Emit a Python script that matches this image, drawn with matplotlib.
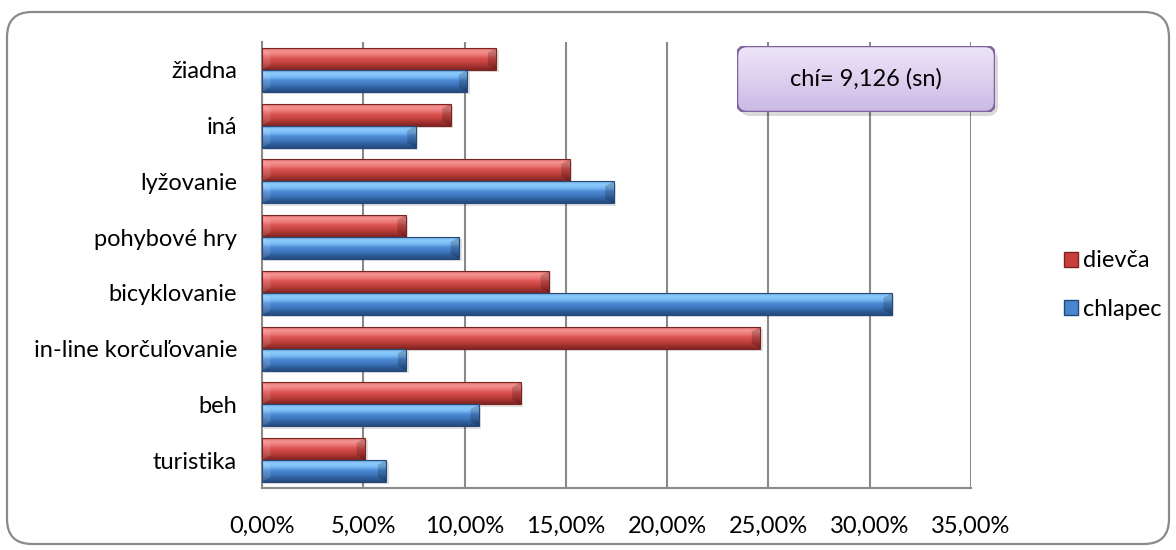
#!/usr/bin/python3
# -*- coding: utf-8 -*-

import numpy as np
import matplotlib
matplotlib.use('Agg')
import matplotlib.pyplot as plt
from matplotlib.patches import FancyBboxPatch, Polygon, Patch
from matplotlib.colors import LinearSegmentedColormap
from matplotlib.ticker import FuncFormatter


categories = ['turistika', 'beh', 'in-line korčuľovanie', 'bicyklovanie',
              'pohybové hry', 'lyžovanie', 'iná', 'žiadna']
dievca = [5.09, 12.77, 24.6, 14.17, 7.10, 15.19, 9.32, 11.57]
chlapec = [6.14, 10.71, 7.13, 31.10, 9.73, 17.36, 7.59, 10.14]
xticks = [0, 5, 10, 15, 20, 25, 30, 35]
note = 'chí= 9,126 (sn)'

FONT = ['Lato', 'DejaVu Sans']
FS = 17

# gradient stops, bottom -> top
RED = ['#7f2321', '#a5332f', '#c44340', '#d9504d', '#ee7a78', '#f49694', '#d85350']
BLUE = ['#244c80', '#2f5f9c', '#3f78bf', '#4c88d2', '#78bcf6', '#8fcbfa', '#5a98dc']


def bevel_bar(ax, rect, stops, edge):
    x0, y0 = rect.get_x(), rect.get_y()
    w, h = rect.get_width(), rect.get_height()
    cmap = LinearSegmentedColormap.from_list('g', stops)
    grad = np.linspace(0, 1, 64).reshape(-1, 1)
    im = ax.imshow(grad, cmap=cmap, extent=[x0, x0 + w, y0, y0 + h],
                   origin='lower', aspect='auto', interpolation='bicubic', zorder=3)
    im.set_clip_path(rect)
    b = 0.42
    bh = h * 0.22
    # left end is lit, right end in shade
    ax.add_patch(Polygon([(x0, y0), (x0 + b, y0 + bh), (x0 + b, y0 + h - bh), (x0, y0 + h)],
                         closed=True, facecolor='white', alpha=0.12, lw=0, zorder=4))
    ax.add_patch(Polygon([(x0 + w, y0), (x0 + w - b, y0 + bh), (x0 + w - b, y0 + h - bh),
                          (x0 + w, y0 + h)],
                         closed=True, facecolor='black', alpha=0.18, lw=0, zorder=4))
    # soft drop shadow
    ax.add_patch(plt.Rectangle((x0 + 0.12, y0 - 0.04), w, h, facecolor='black',
                               alpha=0.12, lw=0, zorder=2))
    ax.add_patch(plt.Rectangle((x0, y0), w, h, facecolor='none', edgecolor=edge,
                               lw=0.8, zorder=5))


def main():
    plt.rcParams['font.family'] = FONT

    fig = plt.figure(figsize=(11.76, 5.5), dpi=100)
    fig.patch.set_facecolor('white')

    # rounded outer frame
    fig.patches.append(FancyBboxPatch((0.07, 0.06), 11.62, 5.32,
                                      boxstyle='round,pad=0,rounding_size=0.25',
                                      transform=fig.dpi_scale_trans,
                                      facecolor='none', edgecolor='#8a8a8a', lw=1.6))

    ax = fig.add_axes([262 / 1176, 62 / 550, 709 / 1176, 446 / 550])

    y = np.arange(len(categories))
    hgt = 0.395
    red_bars = ax.barh(y + hgt / 2, dievca, height=hgt, color='none', lw=0)
    blue_bars = ax.barh(y - hgt / 2, chlapec, height=hgt, color='none', lw=0)

    for rect in red_bars:
        bevel_bar(ax, rect, RED, '#7a2522')
    for rect in blue_bars:
        bevel_bar(ax, rect, BLUE, '#254a7a')

    ax.set_xlim(0, 35)
    ax.set_ylim(-0.5, len(categories) - 0.5)
    ax.set_xticks(xticks)
    ax.xaxis.set_major_formatter(FuncFormatter(lambda v, p: f'{v:.2f}%'.replace('.', ',')))
    ax.set_yticks(y)
    ax.set_yticklabels(categories)
    ax.tick_params(axis='both', length=0, labelsize=FS, colors='black')
    ax.tick_params(axis='x', pad=20)
    ax.tick_params(axis='y', pad=18)
    ax.grid(axis='x', color='#8a8a8a', lw=1.5, zorder=0)
    ax.set_axisbelow(True)
    for side in ('top', 'right'):
        ax.spines[side].set_visible(False)
    for side in ('left', 'bottom'):
        ax.spines[side].set_color('#8a8a8a')
        ax.spines[side].set_linewidth(1.5)

    handles = [Patch(facecolor='#c8403d', edgecolor='#7a2522', label='dievča'),
               Patch(facecolor='#4a86cf', edgecolor='#254a7a', label='chlapec')]
    fig.legend(handles=handles, loc='center left', bbox_to_anchor=(1052 / 1176, 265 / 550),
               frameon=False, fontsize=FS, handlelength=0.6, handleheight=0.6,
               handletextpad=0.2, labelspacing=1.15, borderpad=0)

    # note box with lavender gradient
    bx, by, bw, bh = 7.37, 4.38, 2.58, 0.66
    fig.patches.append(FancyBboxPatch((bx + 0.03, by - 0.04), bw, bh,
                                      boxstyle='round,pad=0,rounding_size=0.1',
                                      transform=fig.dpi_scale_trans,
                                      facecolor='black', alpha=0.15, lw=0, zorder=1))
    box_ax = fig.add_axes([bx / 11.76, by / 5.5, bw / 11.76, bh / 5.5])
    box_ax.set_zorder(2)
    box_ax.set_axis_off()
    frame = FancyBboxPatch((bx, by), bw, bh, boxstyle='round,pad=0,rounding_size=0.1',
                           transform=fig.dpi_scale_trans,
                           facecolor='none', edgecolor='#8064a2', lw=1.8, zorder=5)
    cmap = LinearSegmentedColormap.from_list('lav', ['#cbb9e5', '#ddd0ef', '#ede6f7'])
    img = box_ax.imshow(np.linspace(0, 1, 64).reshape(-1, 1), cmap=cmap, origin='lower',
                        aspect='auto', extent=[0, 1, 0, 1], interpolation='bicubic')
    img.set_clip_path(frame)
    box_ax.add_artist(frame)
    box_ax.text(0.5, 0.5, note, ha='center', va='center', fontsize=FS,
                transform=box_ax.transAxes, zorder=6)

    plt.savefig('out.png', dpi=100)

    return 0


if __name__ == '__main__':
    main()
